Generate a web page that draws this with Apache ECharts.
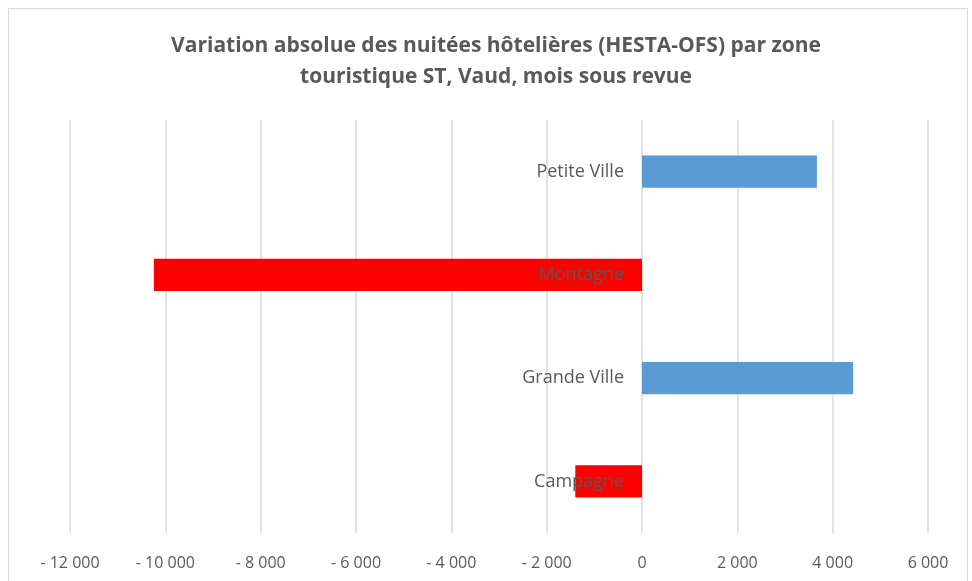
<!DOCTYPE html>
<html>
<head>
    <meta charset="utf-8">
    <title>Variation absolue des nuitées hôtelières</title>
    <script src="https://cdn.jsdelivr.net/npm/echarts@6/dist/echarts.min.js"></script>
    <style>
        body { margin: 0; background: #fff; }
        #frame { position: absolute; left: 8px; top: 8px; width: 960px; height: 580px; border: 1px solid #d9d9d9; box-sizing: border-box; }
        #main { position: absolute; left: 0; top: 0; width: 972px; height: 581px; }
    </style>
</head>
<body>
<div id="frame"></div>
<div id="main"></div>

<script type="text/javascript">
    // zones touristiques, de bas en haut
    var zones = ['Campagne', 'Grande Ville', 'Montagne', 'Petite Ville'];
    // variation absolue des nuitées
    var variations = [-1400, 4430, -10240, 3670];

    var fontFamily = 'Open Sans, sans-serif';
    var gridLeft = 70;

    function fmt(v) {
        var s = String(Math.abs(v)).replace(/\B(?=(\d{3})+(?!\d))/g, ' ');
        return v < 0 ? '- ' + s : s;
    }

    var myChart = echarts.init(document.getElementById('main'));
    myChart.setOption({
        animation: false,
        title: {
            text: 'Variation absolue des nuitées hôtelières (HESTA-OFS) par zone\ntouristique ST, Vaud, mois sous revue',
            left: 491,
            textAlign: 'center',
            top: 26,
            textStyle: {
                fontFamily: fontFamily,
                fontWeight: 'bold',
                fontSize: 21,
                lineHeight: 31,
                color: '#595959'
            }
        },
        grid: { left: gridLeft, right: 44, top: 120, bottom: 48, outerBoundsMode: 'none', containLabel: false },
        xAxis: {
            type: 'value',
            min: -12000,
            max: 6000,
            interval: 2000,
            axisLine: { show: false },
            axisTick: { show: false },
            splitLine: { lineStyle: { color: '#d9d9d9', width: 1.5 } },
            axisLabel: {
                margin: 22,
                color: '#595959',
                fontFamily: fontFamily,
                fontSize: 16,
                formatter: fmt
            }
        },
        yAxis: {
            type: 'category',
            data: zones,
            z: 5,
            axisLine: { show: false },
            axisTick: { show: false },
            axisLabel: {
                margin: 18,
                color: '#595959',
                fontFamily: fontFamily,
                fontSize: 18
            }
        },
        series: [{
            type: 'bar',
            data: variations,
            barWidth: '31%',
            itemStyle: {
                color: function (p) { return p.value < 0 ? '#ff0000' : '#5b9bd5'; }
            }
        }]
    });

    // place l'axe des zones sur la valeur 0
    var zeroX = myChart.convertToPixel({ xAxisIndex: 0 }, 0);
    myChart.setOption({ yAxis: { offset: -(zeroX - gridLeft) } });
</script>
</body>
</html>
